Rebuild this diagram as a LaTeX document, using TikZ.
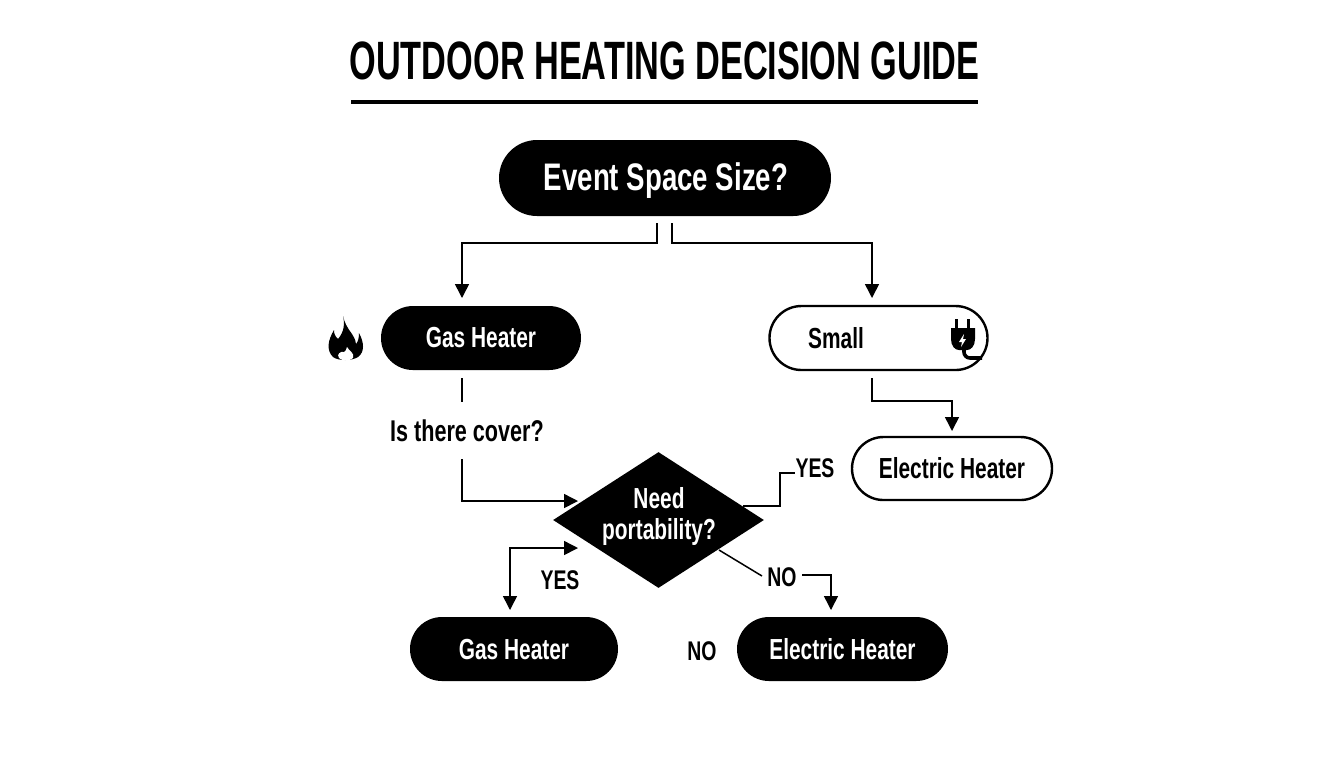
\documentclass[tikz,border=0pt]{standalone}
\usepackage{fontspec}
\setmainfont[FakeStretch=0.72]{Liberation Sans}
\newfontfamily\titlefont[FakeStretch=0.635]{Liberation Sans}
\usetikzlibrary{arrows.meta}
\usetikzlibrary{shapes.geometric}
\usetikzlibrary{shapes.misc}
\tikzset{pill/.style={rounded rectangle, inner sep=0pt, font=\bfseries\fontsize{14.5}{16}\selectfont}}
\tikzset{solid pill/.style={pill, fill=black, text=white}}
\tikzset{open pill/.style={pill, draw=black, line width=1.2pt, fill=white, text=black}}
\tikzset{tag/.style={inner sep=0pt, font=\bfseries\fontsize{14.5}{16}\selectfont}}
\tikzset{answer/.style={inner sep=0pt, font=\bfseries\fontsize{13.5}{16}\selectfont}}
\tikzset{link/.style={draw=black, line width=.75pt}}
\tikzset{tip/.style={link, -{Triangle[length=7pt,width=7pt]}}}
\begin{document}
\begin{tikzpicture}[x=.5pt, y=-.5pt]

    \useasboundingbox (0,0) rectangle (1344,768);

    \node[inner sep=0pt, font=\titlefont\bfseries\fontsize{27}{30}\selectfont] (title) at (664.5,60.5) {OUTDOOR HEATING DECISION GUIDE};
    \coordinate (ruleL) at (351,102);
    \coordinate (ruleR) at (978,102);
    \draw[line width=2pt] (ruleL) -- (ruleR);

    \node[solid pill, minimum width=166pt, minimum height=38pt] (event) at (665,178) {};
    \node[inner sep=0pt, text=white, font=\bfseries\fontsize{19.2}{20}\selectfont] (eventText) at (666,181) {Event Space Size?};
    \node[solid pill, minimum width=100pt, minimum height=32pt] (gasA) at (481,338) {Gas Heater};
    \node[open pill, minimum width=109pt, minimum height=32pt] (small) at (878.5,338) {};
    \node[tag] (smallText) at (836,338) {Small};
    \node[open pill, minimum width=100pt, minimum height=31.5pt] (elecA) at (952,468.5) {Electric Heater};
    \node[solid pill, minimum width=104pt, minimum height=32pt] (gasB) at (514,649) {Gas Heater};
    \node[solid pill, minimum width=105.5pt, minimum height=32pt] (elecB) at (842.5,649) {Electric Heater};

    \node[diamond, fill=black, inner sep=0pt, aspect=1.55, minimum width=105.5pt, minimum height=68pt] (need) at (658.5,520) {};
    \node[inner sep=0pt, text=white, align=center, font=\bfseries\fontsize{14.5}{15.5}\selectfont] (needText) at (659,516) {Need\\portability?};

    \node[inner sep=0pt, font=\bfseries\fontsize{15}{16}\selectfont] (cover) at (467,431) {Is there cover?};
    \node[answer] (yesA) at (815,468) {YES};
    \node[answer] (yesB) at (560,580) {YES};
    \node[answer] (noA) at (782,577) {NO};
    \node[answer] (noB) at (702,651) {NO};

    % free ends of the connectors
    \coordinate (eventL) at (657,223);
    \coordinate (eventR) at (672,223);
    \coordinate (gasIn) at (462,298);
    \coordinate (smallIn) at (872,298);
    \coordinate (gasOut) at (462,378);
    \coordinate (gasEnd) at (462,402);
    \coordinate (coverOut) at (462,459);
    \coordinate (needInA) at (578,501);
    \coordinate (needInB) at (578,548);
    \coordinate (gasBIn) at (510,610);
    \coordinate (smallOut) at (872,378);
    \coordinate (elecIn) at (952,431);
    \coordinate (needYes) at (743,506);
    \coordinate (yesEnd) at (795,473);
    \coordinate (needNo) at (719,550);
    \coordinate (noEnd) at (762,576);
    \coordinate (noOut) at (802,575);
    \coordinate (elecBIn) at (831,610);

    \draw[tip] (eventL) -- ++(0,20) -| (gasIn);
    \draw[tip] (eventR) -- ++(0,20) -| (smallIn);
    \draw[link] (gasOut) -- (gasEnd);
    \draw[tip] (coverOut) |- (needInA);
    \draw[tip, {Triangle[length=7pt,width=7pt]}-{Triangle[length=7pt,width=7pt]}] (needInB) -| (gasBIn);
    \draw[tip] (smallOut) -- ++(0,23) -| (elecIn);
    \draw[link] (needYes) -- ++(37,0) |- (yesEnd);
    \draw[link] (needNo) -- (noEnd);
    \draw[tip] (noOut) -| (elecBIn);

    % flame
    \fill (343,316) .. controls (346,330) and (355,334) .. (356,344)
        .. controls (358,342) and (359,338) .. (359,333)
        .. controls (364,342) and (365,352) .. (358,357)
        .. controls (352,361) and (338,361) .. (333,357)
        .. controls (326,350) and (328,340) .. (334,330)
        .. controls (334,334) and (335,336) .. (338,339)
        .. controls (344,332) and (345,324) .. (343,316) -- cycle;
    \fill[white] (347,347) .. controls (349,351) and (355,353) .. (353,358)
        .. controls (351,361) and (341,361) .. (339,358)
        .. controls (336,354) and (341,351) .. (344,352)
        .. controls (345,351) and (347,350) .. (347,347) -- cycle;

    % plug
    \draw[line width=1.5pt] (956,319) -- (956,329);
    \draw[line width=1.5pt] (968,319) -- (968,329);
    \fill (951,328) -- (975,328) -- (975,339) .. controls (975,346) and (971,350) .. (967,350)
        -- (959,350) .. controls (955,350) and (951,346) .. (951,339) -- cycle;
    \fill[white] (964,334) -- (959,342) -- (962,342) -- (961,347) -- (966,339) -- (963,339) -- cycle;
    \draw[line width=1.8pt, rounded corners=3pt] (964,349) -- (964,358) -- (982,358);

\end{tikzpicture}
\end{document}
